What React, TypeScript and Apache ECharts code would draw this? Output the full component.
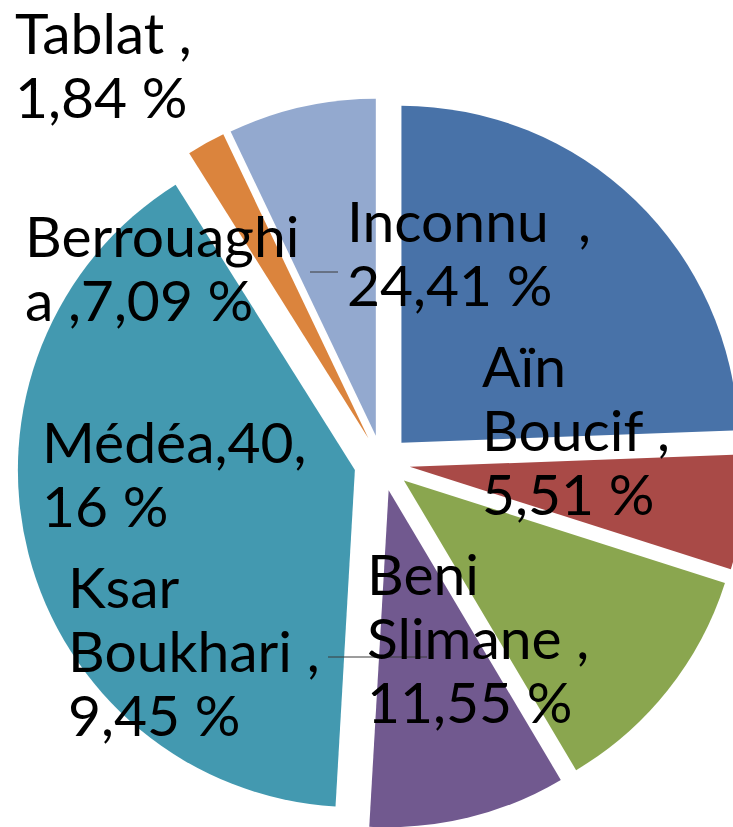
import { useEffect, useRef } from "react";
import * as echarts from "echarts";

const categories = ["Inconnu", "Aïn Boucif", "Beni Slimane", "Ksar Boukhari", "Médéa", "Tablat", "Berrouaghia"];
const shares = [24.41, 5.51, 11.55, 9.45, 40.16, 1.84, 7.09];
const labelTexts = [
  "Inconnu  ,\n24,41 %",
  "Aïn\nBoucif ,\n5,51 %",
  "Beni\nSlimane ,\n11,55 %",
  "Ksar\nBoukhari ,\n9,45 %",
  "Médéa,40,\n16 %",
  "Tablat ,\n1,84 %",
  "Berrouaghi\na ,7,09 %",
];
const sliceColors = ["#4872A8", "#A94A47", "#8AA64F", "#71598F", "#4399B0", "#DB843D", "#93A9CF"];

// label anchor (left x, first-line baseline y)
const labelAnchors: [number, number][] = [
  [347, 242],
  [482, 387],
  [367, 595],
  [68, 608],
  [42, 463],
  [15, 54],
  [25, 257],
];

const FONT_SIZE = 57;
const LINE_H = 64;

export default function App() {
  const ref = useRef<HTMLDivElement>(null);
  useEffect(() => {
    if (!ref.current) return;
    const chart = echarts.init(ref.current, undefined, { renderer: "svg" });
    chart.setOption({
      animation: false,
      backgroundColor: "#ffffff",
      series: [
        {
          type: "pie",
          center: [382, 463],
          radius: 337,
          startAngle: 90,
          clockwise: true,
          avoidLabelOverlap: false,
          selectedMode: "multiple",
          selectedOffset: 28,
          select: { itemStyle: {} },
          emphasis: { disabled: true },
          label: { show: false },
          labelLine: { show: false },
          data: categories.map((name, i) => ({
            name,
            value: shares[i],
            selected: true,
            itemStyle: { color: sliceColors[i] },
          })),
        },
      ],
      graphic: [
        { type: "line", z: 100, shape: { x1: 310, y1: 272, x2: 338, y2: 272 }, style: { stroke: "#3a3a3a", lineWidth: 1 } },
        { type: "line", z: 100, shape: { x1: 328, y1: 657, x2: 427, y2: 657 }, style: { stroke: "#3a3a3a", lineWidth: 1 } },
        ...labelTexts.map((t, i) => ({
          type: "text",
          z: 110,
          x: labelAnchors[i][0],
          y: labelAnchors[i][1] - LINE_H / 2 - FONT_SIZE * 0.387,
          style: {
            text: t,
            fill: "#000000",
            fontFamily: "Lato",
            fontSize: FONT_SIZE,
            lineHeight: LINE_H,
            align: "left",
            verticalAlign: "top",
          },
        })),
      ],
    });
    return () => chart.dispose();
  }, []);
  return <div ref={ref} style={{ position: "fixed", left: 0, top: 0, width: 733, height: 827 }} />;
}
